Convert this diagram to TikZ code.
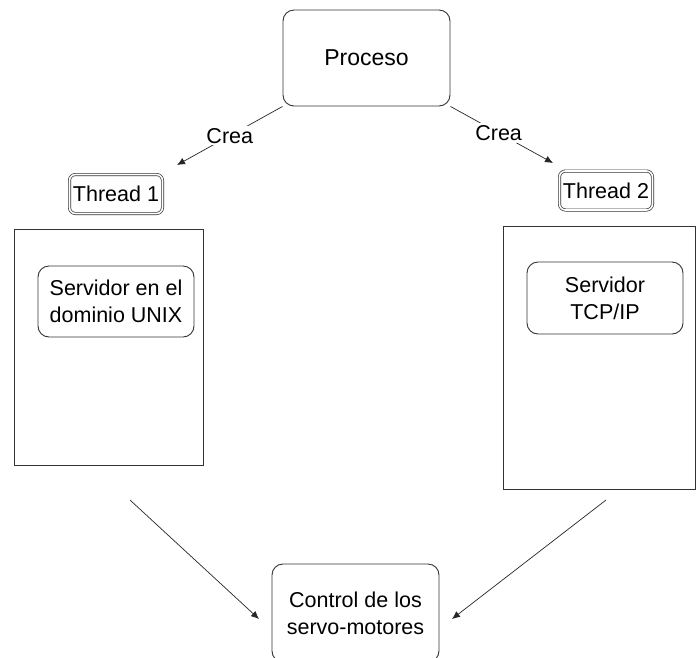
\documentclass[tikz,border=0pt]{standalone}
\usepackage{fontspec}
\setmainfont{Liberation Sans}
\usetikzlibrary{arrows.meta}
\begin{document}
\begin{tikzpicture}[x=1pt,y=-1pt,
  every node/.style={font=\fontsize{21.5}{27}\selectfont},
  box/.style={draw=black!80,line width=0.9pt,rounded corners=11pt,align=center,inner sep=0pt},
  threadbox/.style={draw=black!80,double,double distance=1.6pt,line width=0.7pt,rounded corners=6pt,inner sep=0pt,minimum width=93pt,minimum height=39pt},
  panel/.style={draw=black!80,line width=0.9pt,inner sep=0pt},
  link/.style={draw=black!85,line width=0.7pt,-{Latex[length=8pt,width=7pt]}},
  tag/.style={fill=white,inner sep=2pt}]
\useasboundingbox (0,0) rectangle (696,657);
% processes and threads
\node[box,minimum width=167pt,minimum height=96pt,font=\fontsize{23}{27}\selectfont] (proc) at (366.5,58) {Proceso};
\node[threadbox] (th1) at (116,194) {Thread 1};
\node[threadbox] (th2) at (606,190.5) {Thread 2};
\node[panel,minimum width=189pt,minimum height=236pt] (pan1) at (108.5,347) {};
\node[panel,minimum width=192pt,minimum height=263pt] (pan2) at (599,357.5) {};
\node[box,minimum width=156pt,minimum height=71pt] (unix) at (116,301.5) {Servidor en el\\dominio UNIX};
\node[box,minimum width=156pt,minimum height=72pt] (tcp) at (605,298) {Servidor\\TCP/IP};
\node[box,minimum width=167pt,minimum height=98pt] (ctrl) at (355.5,613) {Control de los\\servo-motores};
% arrow ends
\coordinate (c1) at (177,165);
\coordinate (c2) at (553,163);
\coordinate (s1) at (130,500);
\coordinate (s2) at (606,500);
\coordinate (e1) at (259,619);
\coordinate (e2) at (452,619);
\draw[link] (proc.south west) -- node[tag,pos=0.5] {Crea} (c1);
\draw[link] (proc.south east) -- node[tag,pos=0.47] {Crea} (c2);
\draw[link] (s1) -- (e1);
\draw[link] (s2) -- (e2);
\end{tikzpicture}
\end{document}
